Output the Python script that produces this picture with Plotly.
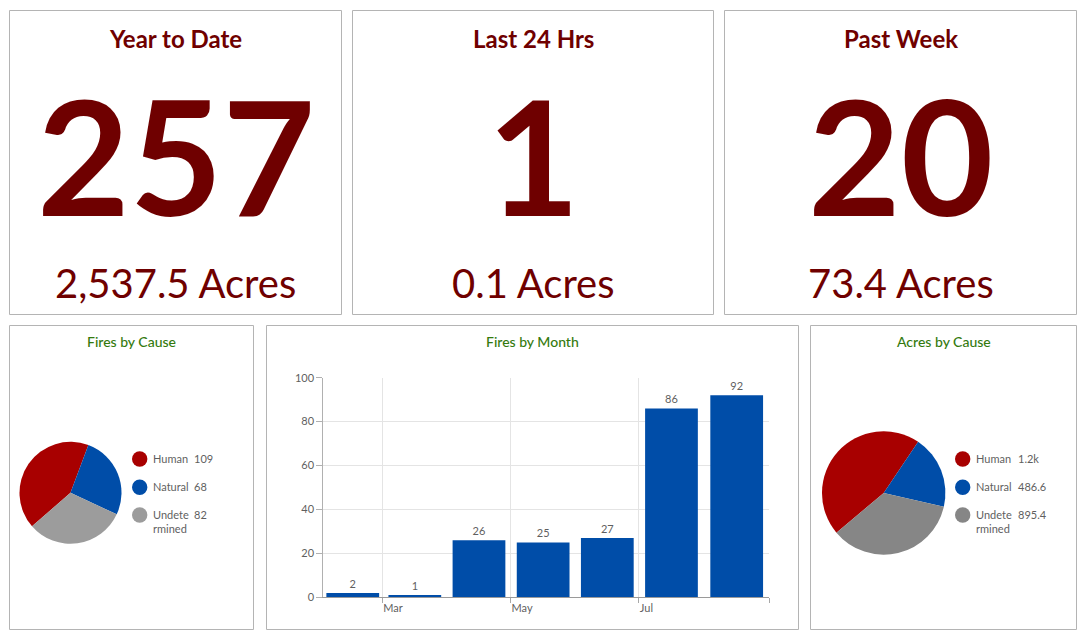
import plotly.graph_objects as go

# ---------------- data ----------------
indicator_titles = ["Year to Date", "Last 24 Hrs", "Past Week"]
fire_counts = [257, 1, 20]
acres_burned = [2537.5, 0.1, 73.4]

causes = ["Human", "Natural", "Undetermined"]
cause_legend_text = ["Human", "Natural", "Undete<br>rmined"]
fires_by_cause = [109, 68, 82]
acres_by_cause = [1155.5, 486.6, 895.4]

month_starts = ["2023-02-01", "2023-03-01", "2023-04-01", "2023-05-01",
                "2023-06-01", "2023-07-01", "2023-08-01"]
fires_by_month = [2, 1, 26, 25, 27, 86, 92]
month_tick_vals = ["2023-03-01", "2023-05-01", "2023-07-01", "2023-09-01"]
month_tick_text = ["Mar", "May", "Jul", ""]

# ---------------- styling ----------------
W, H = 1088, 641
FONT = "Lato, 'Open Sans', sans-serif"
DARK_RED = "#6f0000"
GREEN = "#347a0e"
BORDER = "#b4b4b4"
TEXT_GREY = "#5f5f5f"
pie1_colors = ["#a80000", "#004da8", "#9c9c9c"]
pie2_colors = ["#a80000", "#004da8", "#868686"]


def px(x):
    return x / W


def py(y):
    return 1 - y / H


fig = go.Figure()
shapes = []
annotations = []

# panel borders
top_panels = [(9.5, 341.5), (352.5, 713.5), (724.5, 1076.5)]
bottom_panels = [(9.5, 253.5), (266.5, 798.5), (810.5, 1076.5)]
for x0, x1 in top_panels:
    shapes.append(dict(type="rect", xref="paper", yref="paper",
                       x0=px(x0), x1=px(x1), y0=py(314.5), y1=py(10.5),
                       line=dict(color=BORDER, width=1), layer="below"))
for x0, x1 in bottom_panels:
    shapes.append(dict(type="rect", xref="paper", yref="paper",
                       x0=px(x0), x1=px(x1), y0=py(629.5), y1=py(325.5),
                       line=dict(color=BORDER, width=1), layer="below"))

# indicators
for (x0, x1), title, count, ac in zip(top_panels, indicator_titles, fire_counts, acres_burned):
    cx = (x0 + x1) / 2
    annotations.append(dict(x=px(cx), y=py(38), xref="paper", yref="paper",
                            text=title, showarrow=False, xanchor="center", yanchor="middle",
                            font=dict(family=FONT, size=24, color=DARK_RED, weight=700)))
    annotations.append(dict(x=px(cx), y=py(154), xref="paper", yref="paper",
                            text=f"{count:,}", showarrow=False, xanchor="center", yanchor="middle",
                            font=dict(family=FONT, size=160, color=DARK_RED, weight=700)))
    annotations.append(dict(x=px(cx), y=py(283), xref="paper", yref="paper",
                            text=f"{ac:,.1f} Acres", showarrow=False, xanchor="center", yanchor="middle",
                            font=dict(family=FONT, size=40, color=DARK_RED, weight=400)))

# bottom titles
for (x0, x1), title in zip(bottom_panels, ["Fires by Cause", "Fires by Month", "Acres by Cause"]):
    annotations.append(dict(x=px((x0 + x1) / 2), y=py(341), xref="paper", yref="paper",
                            text=title, showarrow=False, xanchor="center", yanchor="middle",
                            font=dict(family=FONT, size=14, color=GREEN, weight=500)))

# pies
fig.add_trace(go.Pie(labels=causes, values=fires_by_cause, sort=False, direction="clockwise",
                     rotation=229, textinfo="none", hoverinfo="label+value",
                     marker=dict(colors=pie1_colors, line=dict(width=0)),
                     domain=dict(x=[px(19.5), px(121.5)], y=[py(543.8), py(441.8)]),
                     showlegend=False))
fig.add_trace(go.Pie(labels=causes, values=acres_by_cause, sort=False, direction="clockwise",
                     rotation=230, textinfo="none", hoverinfo="label+value",
                     marker=dict(colors=pie2_colors, line=dict(width=0)),
                     domain=dict(x=[px(822), px(945.4)], y=[py(554.7), py(431.3)]),
                     showlegend=False))


def fmt_val(v):
    if v >= 1000:
        return f"{v / 1000:.1f}k"
    if float(v).is_integer():
        return f"{int(v)}"
    return f"{v:g}"


legend_rows_y = [459, 487.3, 515]
for circ_x, text_x, val_x, vals, cols in [(139.7, 150.5, 192, fires_by_cause, pie1_colors),
                                          (962.7, 974, 1015.5, acres_by_cause, pie2_colors)]:
    for cy, lab, v, c in zip(legend_rows_y, cause_legend_text, vals, cols):
        r = 7.7
        shapes.append(dict(type="circle", xref="paper", yref="paper",
                           x0=px(circ_x - r), x1=px(circ_x + r), y0=py(cy + r), y1=py(cy - r),
                           fillcolor=c, line=dict(width=0)))
        annotations.append(dict(x=px(text_x), y=py(cy - 9), xref="paper", yref="paper",
                                text=lab, showarrow=False, xanchor="left", yanchor="top",
                                align="left",
                                font=dict(family=FONT, size=11, color=TEXT_GREY)))
        annotations.append(dict(x=px(val_x), y=py(cy - 9), xref="paper", yref="paper",
                                text=fmt_val(v), showarrow=False, xanchor="left", yanchor="top",
                                font=dict(family=FONT, size=11, color=TEXT_GREY)))

# bar chart
fig.add_trace(go.Bar(x=month_starts, y=fires_by_month, xperiod="M1", xperiodalignment="middle",
                     marker=dict(color="#004da8", line=dict(width=0)),
                     texttemplate="%{y}", textposition="outside", cliponaxis=False,
                     textfont=dict(family=FONT, size=11, color=TEXT_GREY),
                     showlegend=False))

fig.update_layout(
    width=W, height=H, margin=dict(l=0, r=0, t=0, b=0, autoexpand=False),
    paper_bgcolor="white", plot_bgcolor="white",
    font=dict(family=FONT),
    bargap=0.15,
    showlegend=False,
    shapes=shapes, annotations=annotations,
    xaxis=dict(domain=[px(323.3), px(769.3)], range=["2023-02-01", "2023-09-01"],
               type="date", tickvals=month_tick_vals, ticktext=month_tick_text,
               ticklabelposition="outside right", automargin=False,
               showgrid=True, gridcolor="#e4e4e4", gridwidth=1,
               showline=True, linecolor="#9a9a9a", linewidth=1,
               ticks="outside", ticklen=5, tickcolor="#a8a8a8",
               tickfont=dict(family=FONT, size=11, color=TEXT_GREY),
               zeroline=False, fixedrange=True),
    yaxis=dict(domain=[py(597.3), py(377.7)], range=[0, 100], dtick=20, tick0=0,
               automargin=False,
               showgrid=True, gridcolor="#e4e4e4", gridwidth=1,
               showline=True, linecolor="#b0b0b0", linewidth=1,
               ticks="outside", ticklen=6, tickcolor="#b0b0b0",
               tickfont=dict(family=FONT, size=11, color=TEXT_GREY),
               zeroline=False, fixedrange=True),
)

fig.write_html("out.html")
